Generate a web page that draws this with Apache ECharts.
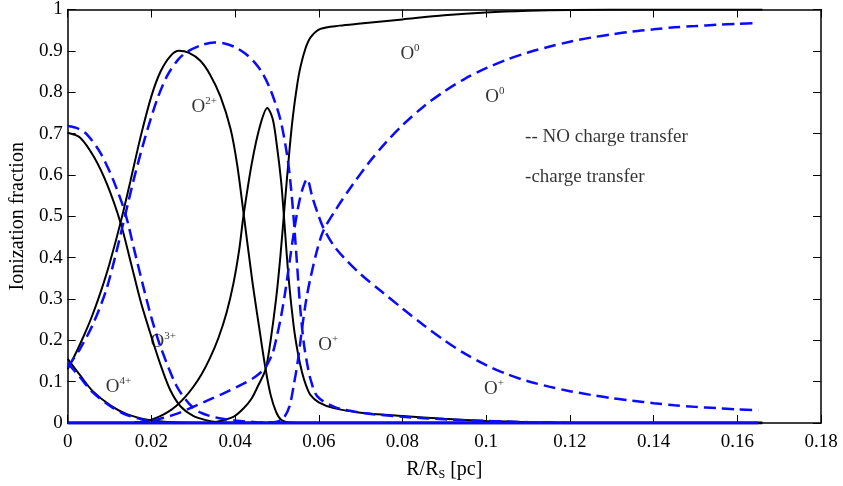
<!DOCTYPE html>
<html>
<head>
<meta charset="utf-8">
<script src="https://cdn.jsdelivr.net/npm/echarts@6/dist/echarts.min.js"></script>
<style>
  html, body { margin: 0; padding: 0; background: #fff; }
  #chart { width: 843px; height: 486px; }
</style>
</head>
<body>
<div id="chart"></div>
<script>
// ---- Data: charge transfer (black solid) ----
var o4Ct = [[0,0.155],[0.003,0.115],[0.006,0.077],[0.0103,0.042],[0.014,0.022],[0.018,0.01],[0.022,0.004],[0.026,0.001],[0.03,0]];
var o3Ct = [[0,0.702],[0.003,0.69],[0.0063,0.643],[0.0095,0.575],[0.0127,0.482],[0.015,0.392],[0.0175,0.292],[0.0205,0.193],[0.0225,0.132],[0.0246,0.078],[0.027,0.04],[0.03,0.017],[0.033,0.007],[0.036,0.002],[0.04,0]];
var o2Ct = [[0,0.13],[0.002,0.17],[0.004,0.214],[0.006,0.263],[0.008,0.32],[0.01,0.385],[0.0127,0.487],[0.015,0.585],[0.0175,0.695],[0.02,0.79],[0.0222,0.85],[0.0246,0.888],[0.0266,0.9],[0.029,0.895],[0.0317,0.876],[0.034,0.843],[0.0365,0.79],[0.0389,0.712],[0.0405,0.625],[0.042,0.51],[0.0441,0.345],[0.046,0.215],[0.0473,0.13],[0.0485,0.068],[0.0498,0.027],[0.051,0.008],[0.053,0.001],[0.055,0]];
var o1Ct = [[0.016,0.001],[0.018,0.003],[0.02,0.008],[0.022,0.016],[0.024,0.027],[0.026,0.042],[0.028,0.062],[0.03,0.087],[0.032,0.118],[0.034,0.157],[0.036,0.205],[0.038,0.268],[0.0396,0.337],[0.041,0.42],[0.042,0.5],[0.044,0.628],[0.046,0.72],[0.0477,0.762],[0.049,0.735],[0.05,0.67],[0.051,0.585],[0.0516,0.51],[0.0528,0.35],[0.054,0.235],[0.055,0.17],[0.056,0.123],[0.057,0.09],[0.058,0.068],[0.06,0.05],[0.0636,0.036],[0.07,0.025],[0.08,0.017],[0.09,0.01],[0.1,0.005],[0.11,0.002],[0.12,0]];
var o0Ct = [[0.035,0.002],[0.0396,0.015],[0.042,0.035],[0.044,0.06],[0.0455,0.09],[0.0473,0.13],[0.0485,0.2],[0.0498,0.3],[0.0508,0.4],[0.0518,0.52],[0.053,0.66],[0.0538,0.74],[0.0548,0.815],[0.0556,0.86],[0.0568,0.905],[0.058,0.932],[0.0604,0.953],[0.065,0.961],[0.07,0.966],[0.08,0.976],[0.09,0.986],[0.1,0.993],[0.11,0.997],[0.12,0.999],[0.14,1],[0.166,1]];
var zeroCt = [[0,0],[0.166,0]];

// ---- Data: NO charge transfer (blue dashed) ----
var o4No = [[0,0.145],[0.003,0.11],[0.006,0.074],[0.0103,0.04],[0.014,0.02],[0.018,0.008],[0.022,0.002],[0.026,0]];
var o3No = [[0,0.718],[0.0025,0.712],[0.0047,0.697],[0.0079,0.652],[0.011,0.585],[0.0138,0.506],[0.016,0.415],[0.0182,0.325],[0.0202,0.248],[0.0222,0.184],[0.026,0.09],[0.029,0.047],[0.0318,0.025],[0.036,0.012],[0.04,0.006],[0.045,0.002],[0.05,0]];
var o2No = [[0,0.135],[0.003,0.18],[0.006,0.238],[0.0091,0.318],[0.0115,0.408],[0.0138,0.505],[0.016,0.597],[0.0185,0.69],[0.0214,0.783],[0.0238,0.84],[0.0265,0.88],[0.0286,0.898],[0.032,0.914],[0.035,0.92],[0.0375,0.918],[0.04,0.909],[0.0425,0.893],[0.0445,0.874],[0.0465,0.847],[0.0485,0.805],[0.0508,0.735],[0.0524,0.65],[0.0532,0.585],[0.054,0.495],[0.0548,0.385],[0.0556,0.275],[0.0564,0.195],[0.0572,0.145],[0.058,0.107],[0.0596,0.065],[0.0637,0.039],[0.07,0.025],[0.08,0.015],[0.09,0.009],[0.1,0.005],[0.11,0.002],[0.12,0]];
var o1No = [[0.016,0.001],[0.018,0.003],[0.022,0.01],[0.026,0.022],[0.03,0.039],[0.034,0.057],[0.038,0.075],[0.042,0.095],[0.045,0.113],[0.0473,0.135],[0.049,0.17],[0.05,0.21],[0.051,0.258],[0.052,0.318],[0.053,0.388],[0.054,0.458],[0.055,0.518],[0.056,0.562],[0.0572,0.59],[0.0585,0.545],[0.06,0.5],[0.0611,0.472],[0.0635,0.43],[0.066,0.4],[0.07,0.36],[0.075,0.318],[0.08,0.277],[0.085,0.237],[0.09,0.2],[0.095,0.167],[0.1,0.14],[0.105,0.118],[0.11,0.101],[0.115,0.088],[0.12,0.077],[0.125,0.068],[0.13,0.06],[0.135,0.054],[0.14,0.048],[0.145,0.043],[0.15,0.039],[0.155,0.036],[0.16,0.033],[0.165,0.031]];
var o0No = [[0.048,0.001],[0.05,0.003],[0.0516,0.012],[0.053,0.04],[0.054,0.09],[0.055,0.15],[0.056,0.228],[0.057,0.298],[0.058,0.35],[0.0596,0.418],[0.0611,0.465],[0.064,0.515],[0.068,0.575],[0.072,0.63],[0.076,0.678],[0.08,0.72],[0.085,0.765],[0.09,0.802],[0.095,0.833],[0.1,0.858],[0.105,0.879],[0.11,0.896],[0.115,0.91],[0.12,0.922],[0.125,0.932],[0.13,0.94],[0.135,0.947],[0.14,0.952],[0.145,0.957],[0.15,0.96],[0.155,0.963],[0.16,0.965],[0.165,0.967]];
var zeroNo = [[0,0],[0.165,0]];

// ---- Annotations (data coordinates) ----
var noteX = [0.0795, 0.0998, 0.0296, 0.0198, 0.0091, 0.0599, 0.0995, 0.1093, 0.1093];
var noteY = [0.892, 0.788, 0.764, 0.195, 0.087, 0.188, 0.082, 0.692, 0.595];
var noteText = ['O{s|0}', 'O{s|0}', 'O{s|2+}', 'O{s|3+}', 'O{s|4+}', 'O{s|+}', 'O{s|+}', '-- NO charge transfer', '-charge transfer'];

// ---- Axis ticks ----
var xMin = 0, xMax = 0.18, xStep = 0.02;
var yMin = 0, yMax = 1, yStep = 0.1;

var FONT = '"Liberation Serif", "Times New Roman", serif';
var BLUE = '#0a0aff';

function fmt(v) { return String(parseFloat(v.toFixed(2))); }

function ctLine(d) {
  return { type: 'line', data: d, symbol: 'none', smooth: 0.3,
    lineStyle: { color: '#000', width: 2 }, z: 3, silent: true };
}
function noLine(d) {
  return { type: 'line', data: d, symbol: 'none', smooth: 0.3,
    lineStyle: { color: BLUE, width: 2.5, type: [12, 6] }, z: 4, silent: true };
}

var notes = noteX.map(function (x, i) {
  return { value: [x, noteY[i]], label: { formatter: noteText[i] } };
});

var series = [
  { type: 'line', data: zeroCt, symbol: 'none', lineStyle: { color: '#000', width: 3 }, z: 2, silent: true },
  ctLine(o4Ct), ctLine(o3Ct), ctLine(o2Ct), ctLine(o1Ct), ctLine(o0Ct),
  noLine(o4No), noLine(o3No), noLine(o2No), noLine(o1No), noLine(o0No),
  { type: 'line', data: zeroNo, symbol: 'none', lineStyle: { color: BLUE, width: 3 }, z: 5, silent: true },
  { type: 'scatter', data: notes, symbolSize: 0, z: 10, silent: true,
    label: { show: true, position: 'right', distance: 0, color: '#000',
      fontFamily: FONT, fontSize: 19,
      rich: { s: { fontFamily: FONT, fontSize: 11, color: '#000', padding: [0, 0, 12, 0] } } } }
];

var chart = echarts.init(document.getElementById('chart'), null, { renderer: 'canvas' });
chart.setOption({
  animation: false,
  backgroundColor: '#fff',
  grid: { left: 67, right: 22, top: 8, bottom: 63, containLabel: false },
  xAxis: [
    { type: 'value', min: xMin, max: xMax, interval: xStep, position: 'bottom',
      name: 'R/R{sub|S} [pc]', nameLocation: 'middle', nameGap: 36,
      nameTextStyle: { fontFamily: FONT, fontSize: 20, color: '#000',
        rich: { sub: { fontFamily: FONT, fontSize: 12, color: '#000', padding: [10, 0, 0, 0] } } },
      axisLine: { show: true, onZero: false, lineStyle: { color: '#000', width: 1.5 } },
      axisTick: { show: true, inside: true, length: 8, lineStyle: { color: '#000' } },
      axisLabel: { fontFamily: FONT, fontSize: 19, color: '#000', margin: 10, formatter: fmt },
      splitLine: { show: false } },
    { type: 'value', min: xMin, max: xMax, interval: xStep, position: 'top',
      axisLine: { show: true, onZero: false, lineStyle: { color: '#000', width: 1.5 } },
      axisTick: { show: true, inside: true, length: 8, lineStyle: { color: '#000' } },
      axisLabel: { show: false }, splitLine: { show: false } }
  ],
  yAxis: [
    { type: 'value', min: yMin, max: yMax, interval: yStep, position: 'left',
      name: 'Ionization fraction', nameLocation: 'middle', nameGap: 37,
      nameTextStyle: { fontFamily: FONT, fontSize: 20, color: '#000' },
      axisLine: { show: true, onZero: false, lineStyle: { color: '#000', width: 1.5 } },
      axisTick: { show: true, inside: true, length: 8, lineStyle: { color: '#000' } },
      axisLabel: { fontFamily: FONT, fontSize: 19, color: '#000', margin: 5, formatter: fmt },
      splitLine: { show: false } },
    { type: 'value', min: yMin, max: yMax, interval: yStep, position: 'right',
      axisLine: { show: true, onZero: false, lineStyle: { color: '#000', width: 1.5 } },
      axisTick: { show: true, inside: true, length: 8, lineStyle: { color: '#000' } },
      axisLabel: { show: false }, splitLine: { show: false } }
  ],
  series: series
});
</script>
</body>
</html>
